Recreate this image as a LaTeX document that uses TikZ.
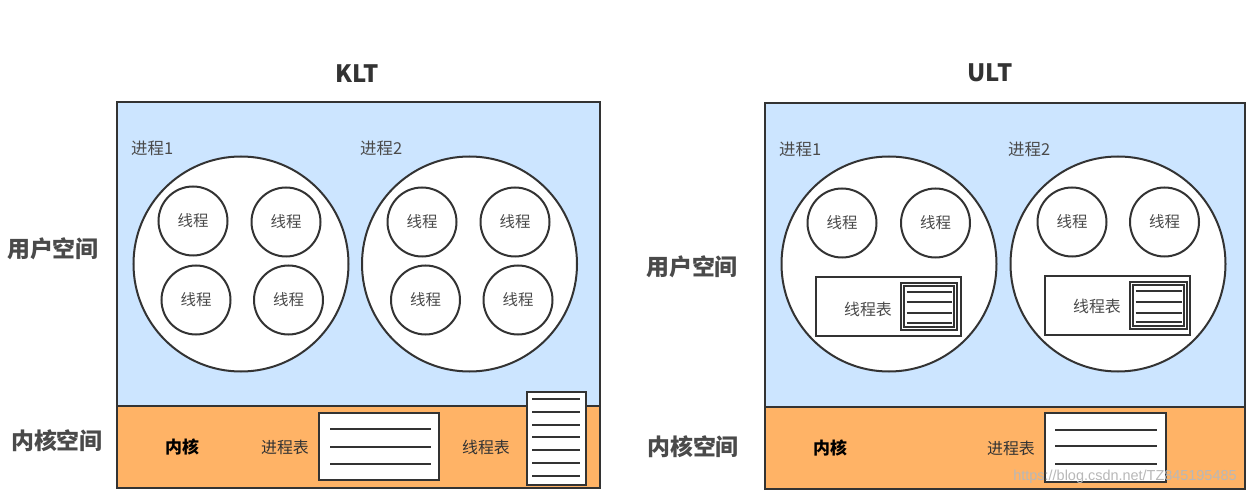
\documentclass[tikz,border=0pt]{standalone}
\usepackage{fontspec}
\setmainfont{Noto Sans CJK SC}
\newfontfamily\wmfont{Liberation Sans}
\definecolor{ublue}{HTML}{CCE5FF}
\definecolor{korange}{HTML}{FFB366}
\definecolor{lc}{HTML}{333333}
\definecolor{tc}{HTML}{333333}
\definecolor{thc}{HTML}{4A4A4A}
\begin{document}
\begin{tikzpicture}[x=1bp,y=-1bp,
  region/.style={draw=lc, line width=2.2bp, inner sep=0, anchor=north west},
  proc/.style={circle, draw=lc, fill=white, line width=2bp, minimum size=215bp, inner sep=0},
  thr/.style={circle, draw=lc, fill=white, line width=2bp, minimum size=69bp, inner sep=0, font=\fontsize{15.5}{15.5}\selectfont, text=thc},
  tbl/.style={draw=lc, fill=white, line width=2bp, inner sep=0},
  tline/.style={lc, line width=2bp},
  title/.style={font=\fontsize{24}{24}\selectfont\bfseries, text=tc, inner sep=0},
  space/.style={font=\fontsize{23}{23}\selectfont\bfseries, text=thc, inner sep=0},
  plabel/.style={font=\fontsize{16.5}{16.5}\selectfont, text=thc, inner sep=0, anchor=west},
  klabel/.style={font=\fontsize{16}{16}\selectfont, text=tc, inner sep=0},
  kbold/.style={font=\fontsize{17}{17}\selectfont\bfseries, text=black, inner sep=0}]
\useasboundingbox (0,0) rectangle (1258,497);
\fill[white] (0,0) rectangle (1258,497);

% ================= KLT =================
\node[title] (kt) at (357,74) {KLT};
\node[region, fill=ublue, minimum width=483bp, minimum height=304bp] (kus) at (116,101) {};
\node[region, fill=korange, minimum width=483bp, minimum height=82bp] (kks) at (116,405) {};
\node[space] (kul) at (53,249) {用户空间};
\node[space] (kkl) at (57,441) {内核空间};

\node[plabel] (kp1l) at (131,148) {进程1};
\node[plabel] (kp2l) at (360,148) {进程2};
\node[proc] (kp1) at (241,264) {};
\node[proc] (kp2) at (469.5,264) {};
\node[thr] (k11) at (193,221) {线程};
\node[thr] (k12) at (286,222) {线程};
\node[thr] (k13) at (196,300) {线程};
\node[thr] (k14) at (288.5,300) {线程};
\node[thr] (k21) at (422,222) {线程};
\node[thr] (k22) at (515,222) {线程};
\node[thr] (k23) at (425.5,300) {线程};
\node[thr] (k24) at (518,300) {线程};

\node[kbold] (kk) at (182,447) {内核};
\node[klabel] (kptl) at (285,447) {进程表};
\node[tbl, minimum width=120bp, minimum height=67bp] (kpt) at (379,446.5) {};
\foreach \yy in {429,447,464} \draw[tline] (330,\yy) -- (431,\yy);
\node[klabel] (kttl) at (486,447) {线程表};
\node[tbl, minimum width=59bp, minimum height=93bp] (ktt) at (556.5,438.5) {};
\foreach \i in {0,...,6} \draw[tline] (532,399+12.8*\i) -- (580,399+12.8*\i);

% ================= ULT =================
\node[title] (ut) at (990,73) {ULT};
\node[region, fill=ublue, minimum width=480bp, minimum height=304bp] (uus) at (764,102) {};
\node[region, fill=korange, minimum width=480bp, minimum height=82bp] (uks) at (764,406) {};
\node[space] (uul) at (692,267) {用户空间};
\node[space] (ukl) at (693,447) {内核空间};

\node[plabel] (up1l) at (779,149) {进程1};
\node[plabel] (up2l) at (1008,149) {进程2};
\node[proc] (up1) at (889,264) {};
\node[proc] (up2) at (1118,264) {};
\node[thr] (u11) at (842,223) {线程};
\node[thr] (u12) at (935.5,223) {线程};
\node[thr] (u21) at (1072,222) {线程};
\node[thr] (u22) at (1164.5,222) {线程};

% thread tables inside processes
\node[tbl, minimum width=145bp, minimum height=59bp] (ut1) at (888.5,306.5) {};
\node[klabel, text=thc] (ut1l) at (868,309) {线程表};
\node[tbl, minimum width=56bp, minimum height=47bp] (ut1i) at (929,306.5) {};
\draw[lc, line width=1.5bp] (904,286) rectangle (954,327);
\foreach \yy in {292.5,302.5,313,323} \draw[tline] (906.5,\yy) -- (951.5,\yy);

\node[tbl, minimum width=145bp, minimum height=59bp] (ut2) at (1117.5,305.5) {};
\node[klabel, text=thc] (ut2l) at (1097,306) {线程表};
\node[tbl, minimum width=57bp, minimum height=47bp] (ut2i) at (1158.5,305.5) {};
\draw[lc, line width=1.5bp] (1133,285) rectangle (1184,326);
\foreach \yy in {291.5,302,313,322} \draw[tline] (1135.5,\yy) -- (1181.5,\yy);

\node[kbold] (uk) at (830,448) {内核};
\node[klabel] (uptl) at (1011,448) {进程表};
\node[tbl, minimum width=121bp, minimum height=68bp] (upt) at (1105.5,447.5) {};
\foreach \yy in {430,446,464} \draw[tline] (1055,\yy) -- (1157,\yy);

% watermark
\node[font=\wmfont\fontsize{14.5}{14.5}\selectfont, text=white!72!black, inner sep=0] (wm) at (1125,477) {https://blog.csdn.net/TZ845195485};
\end{tikzpicture}
\end{document}
